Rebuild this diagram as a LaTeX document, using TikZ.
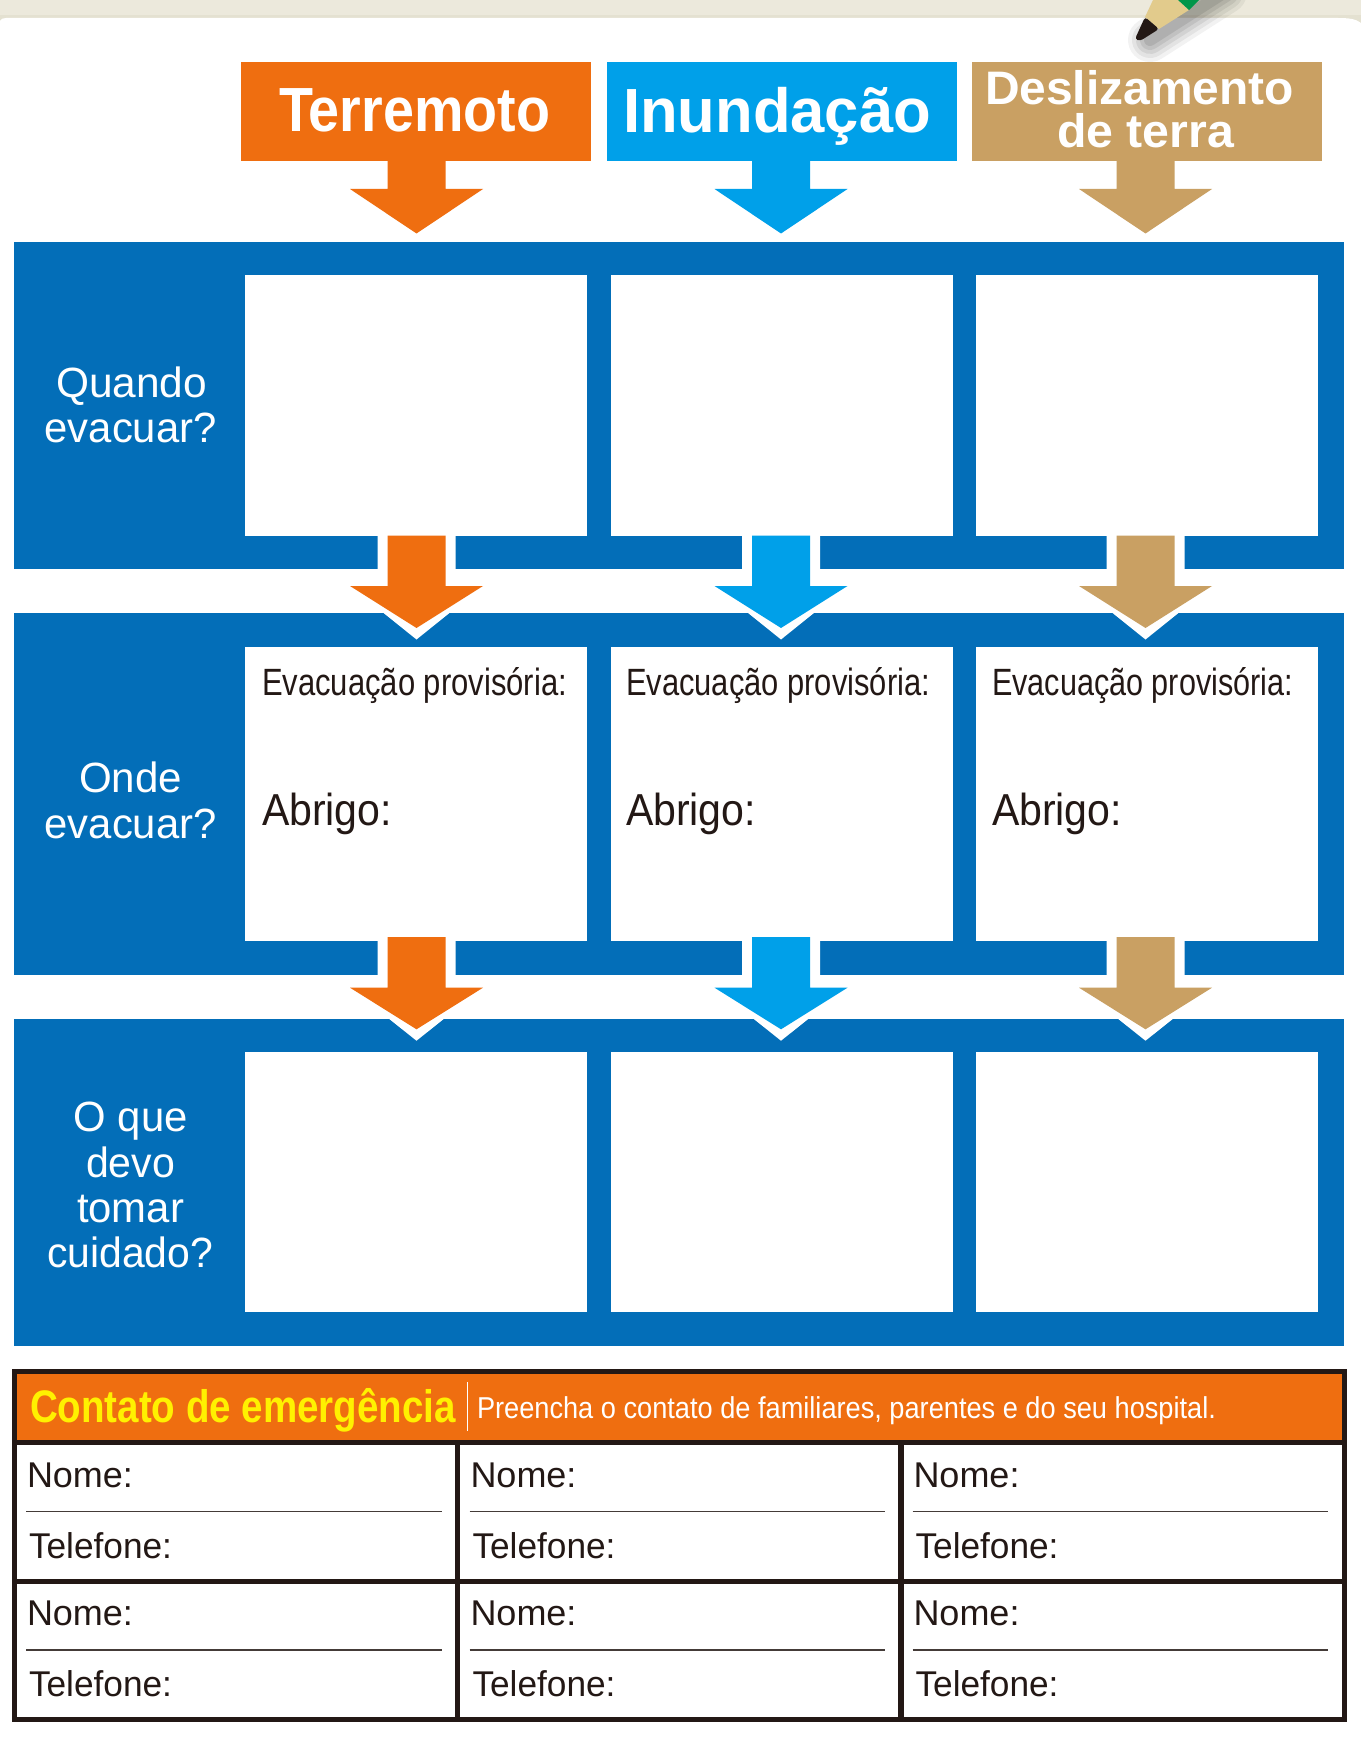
\documentclass[tikz,border=0pt]{standalone}
\usepackage{fontspec}
\usepackage{graphicx}
\setmainfont{Liberation Sans}
\definecolor{cOrange}{HTML}{EF6E10}
\definecolor{cCyan}{HTML}{00A0E9}
\definecolor{cTan}{HTML}{C9A063}
\definecolor{cBlue}{HTML}{036EB8}
\definecolor{cDark}{HTML}{231815}
\definecolor{cYellow}{HTML}{FFF100}
\definecolor{cBeige}{HTML}{ECE9DC}
\definecolor{cBeigeD}{HTML}{E4E1D1}
\definecolor{cWood}{HTML}{E2CB8C}
\definecolor{cGreen}{HTML}{00964A}
\newlength\pxu
\setlength\pxu{0.5pt}
\tikzset{
  txtnode/.style={inner sep=0pt,outer sep=0pt,anchor=base west},
  panel/.style={fill=cBlue,draw=none},
  cell/.style={fill=white,draw=none},
  tableline/.style={draw=cDark,line width=2.65pt},
  thinline/.style={draw=cDark!85,line width=0.65pt},
}
% name, x, baseline y, ink width, font px, style, text
\newcommand\lab[7]{\node[txtnode,#6] (#1) at (#2,#3) {\resizebox{#4\pxu}{\height}{\fontsize{#5\pxu}{#5\pxu}\selectfont #7}};}
% centre x, shaft top, head y, tip y, colour
\newcommand\blockarrow[5]{\fill[#5] ({#1-29},#2) -- ({#1+29},#2) -- ({#1+29},#3) -- ({#1+66.5},#3) -- (#1,#4) -- ({#1-66.5},#3) -- ({#1-29},#3) -- cycle;}
% centre x, shaft top, head y, tip y, white tip y, colour
\newcommand\flowarrow[6]{%
  \fill[white] ({#1-39},#2) -- ({#1+39},#2) -- ({#1+39},#3) -- ({#1+66.5},#3) -- (#1,#5) -- ({#1-66.5},#3) -- ({#1-39},#3) -- cycle;
  \blockarrow{#1}{#2}{#3}{#4}{#6}}
\begin{document}
\begin{tikzpicture}[x=0.5pt,y=-0.5pt]
\useasboundingbox (0,0) rectangle (1361,1749);
% paper top
\fill[cBeige] (0,0) rectangle (1361,24);
\fill[cBeigeD] (0,15) rectangle (1361,24);
\fill[white] (0,24) -- (0,21) .. controls (1,19) and (3,18) .. (6,18) -- (1338,18) .. controls (1349,18) and (1356,19) .. (1361,23) -- (1361,24) -- cycle;
\fill[white] (0,24) rectangle (1361,1749);
% pencil shadow
\foreach \w/\o in {44/.05,36/.06,28/.07,20/.08,12/.09}{
  \draw[black,opacity=\o,line width=\w*0.5pt,line cap=round] (1150,40) -- (1225,-8);
}
% pencil
\fill[cWood] (1145,17) -- (1153,0) -- (1178,0) -- (1189,10) -- (1159,29) -- cycle;
\fill[cGreen] (1178,0) -- (1199,0) -- (1189,10) -- cycle;
\fill[cDark,rounded corners=1.5pt] (1145,17) -- (1159,29) -- (1140,41) -- (1135,39) -- cycle;
% header boxes
\fill[cOrange] (241,62) rectangle (591,160.7);
\fill[cCyan] (606.7,62) rectangle (956.7,160.7);
\fill[cTan] (972,62) rectangle (1322,160.7);
\blockarrow{416.5}{160}{189}{233.5}{cOrange}
\blockarrow{781}{160}{189}{233.5}{cCyan}
\blockarrow{1145.5}{160}{189}{233.5}{cTan}
\lab{hTerremoto}{279}{132}{271}{62.4}{font=\bfseries,text=white}{\bfseries Terremoto}
\lab{hInundacao}{623}{132.3}{308}{62.4}{text=white}{\bfseries Inundação}
\lab{hDesliz}{985}{105}{309}{47}{text=white}{\bfseries Deslizamento}
\lab{hTerra}{1057}{147.3}{177}{47}{text=white}{\bfseries de terra}
% blue panels
\fill[panel] (14,242) rectangle (1344,568.7);
\fill[panel] (14,612.7) rectangle (1344,974.5);
\fill[panel] (14,1018.7) rectangle (1344,1345.7);
% cells
\foreach \a/\b in {245/587,611/953,976/1318}{
  \fill[cell] (\a,275.5) rectangle (\b,535.5);
  \fill[cell] (\a,646.7) rectangle (\b,940.7);
  \fill[cell] (\a,1052) rectangle (\b,1312);
}
% flow arrows
\foreach \c/\k in {416.5/cOrange,781/cCyan,1145.5/cTan}{
  \flowarrow{\c}{535.5}{586}{628}{639.5}{\k}
  \flowarrow{\c}{937}{987.7}{1029.3}{1040.7}{\k}
}
% row labels
\lab{lQuando}{56}{398}{151}{42.3}{text=white}{Quando}
\lab{lEvacA}{44.6}{443}{172}{42.3}{text=white}{evacuar?}
\lab{lOnde}{79}{792}{103}{42.3}{text=white}{Onde}
\lab{lEvacB}{44.6}{838}{172}{42.3}{text=white}{evacuar?}
\lab{lOque}{73.6}{1131}{114}{42.3}{text=white}{O que}
\lab{lDevo}{86}{1177}{89}{42.3}{text=white}{devo}
\lab{lTomar}{77}{1222.7}{107}{42.3}{text=white}{tomar}
\lab{lCuidado}{47}{1267}{166}{42.3}{text=white}{cuidado?}
% cell texts
\lab{eA}{262}{695}{305}{38}{text=cDark}{Evacuação provisória:}
\lab{eB}{626}{695}{304}{38}{text=cDark}{Evacuação provisória:}
\lab{eC}{992}{695}{301}{38}{text=cDark}{Evacuação provisória:}
\lab{aA}{262}{825.5}{130}{44.8}{text=cDark}{Abrigo:}
\lab{aB}{626}{825.5}{130}{44.8}{text=cDark}{Abrigo:}
\lab{aC}{992}{825.5}{130}{44.8}{text=cDark}{Abrigo:}
% contact table
\fill[cOrange] (14.4,1371.7) rectangle (1344.2,1442.5);
\fill[white] (14.4,1442.5) rectangle (1344.2,1719.5);
\draw[tableline] (14.4,1371.7) rectangle (1344.2,1719.5);
\draw[tableline] (14.4,1442.5) -- (1344.2,1442.5);
\draw[tableline] (14.4,1581.2) -- (1344.2,1581.2);
\draw[tableline] (457.5,1442.5) -- (457.5,1719.5);
\draw[tableline] (901,1442.5) -- (901,1719.5);
\draw[white,line width=0.8pt] (467.3,1382) -- (467.3,1431);
\lab{tContato}{30}{1422.7}{426}{45.6}{text=cYellow}{\bfseries Contato de emergência}
\lab{tPreencha}{477}{1418}{739}{30.2}{text=white}{Preencha o contato de familiares, parentes e do seu hospital.}
\foreach \a/\b in {26/442,469.7/885,912.7/1328}{
  \draw[thinline] (\a,1511.7) -- (\b,1511.7);
  \draw[thinline] (\a,1650) -- (\b,1650);
}
\lab{nA}{27}{1487}{106}{35.8}{text=cDark}{Nome:}
\lab{fA}{29}{1558}{143}{35.8}{text=cDark}{Telefone:}
\lab{nB}{470.5}{1487}{106}{35.8}{text=cDark}{Nome:}
\lab{fB}{472.5}{1558}{143}{35.8}{text=cDark}{Telefone:}
\lab{nC}{913.5}{1487}{106}{35.8}{text=cDark}{Nome:}
\lab{fC}{915.5}{1558}{143}{35.8}{text=cDark}{Telefone:}
\lab{nD}{27}{1625.7}{106}{35.8}{text=cDark}{Nome:}
\lab{fD}{29}{1696.7}{143}{35.8}{text=cDark}{Telefone:}
\lab{nE}{470.5}{1625.7}{106}{35.8}{text=cDark}{Nome:}
\lab{fE}{472.5}{1696.7}{143}{35.8}{text=cDark}{Telefone:}
\lab{nF}{913.5}{1625.7}{106}{35.8}{text=cDark}{Nome:}
\lab{fF}{915.5}{1696.7}{143}{35.8}{text=cDark}{Telefone:}
\end{tikzpicture}
\end{document}
